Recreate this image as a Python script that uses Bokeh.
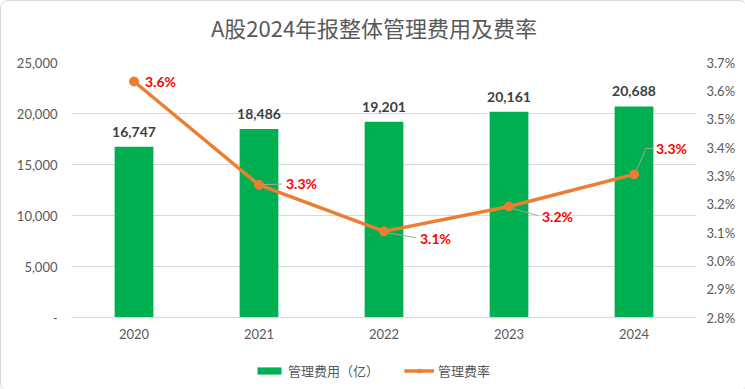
from bokeh.plotting import figure
from bokeh.layouts import column
from bokeh.models import (Range1d, LinearAxis, FixedTicker, NumeralTickFormatter,
                          PrintfTickFormatter, Legend, LegendItem, ColumnDataSource, Label)
from bokeh.embed import file_html
from bokeh.resources import INLINE
from bokeh.core.properties import value

# ---- data ----
title_text = "A股2024年报整体管理费用及费率"
years = ["2020", "2021", "2022", "2023", "2024"]
expense = [16747, 18486, 19201, 20161, 20688]
expense_labels = ["16,747", "18,486", "19,201", "20,161", "20,688"]
rate = [3.633, 3.268, 3.104, 3.192, 3.305]
rate_labels = ["3.6%", "3.3%", "3.1%", "3.2%", "3.3%"]
left_ticks = [0, 5000, 10000, 15000, 20000, 25000]
right_ticks = [2.8, 2.9, 3.0, 3.1, 3.2, 3.3, 3.4, 3.5, 3.6, 3.7]
series_names = ["管理费用（亿）", "管理费率"]

# ---- styles ----
W = 745
FW, FH = 625, 255
BL, BR = 70, 50
TITLE_H, LEG_H = 45, 40
GREEN = "#00B050"
ORANGE = "#ED7D31"
GREY = "#595959"
CJK = "Noto Sans CJK SC"
NUM = "Lato"
lab_dx = [11, 27, 36, 33, 22]
lab_dy = [0, -1, 7, 10, -26]

xs = list(range(len(years)))
X0, X1 = -0.5, len(years) - 0.5
Y0, Y1 = left_ticks[0], left_ticks[-1]
R0, R1 = right_ticks[0], right_ticks[-1]


def strip(h):
    f = figure(frame_width=FW, frame_height=h, output_backend="svg", toolbar_location=None,
               x_range=Range1d(0, 1), y_range=Range1d(0, 1), x_axis_type=None, y_axis_type=None,
               min_border_left=BL, min_border_right=BR, min_border_top=0, min_border_bottom=0,
               background_fill_color="white", border_fill_color="white")
    f.outline_line_color = None
    f.xgrid.visible = False
    f.ygrid.visible = False
    return f


# ---- title strip ----
tf = strip(TITLE_H)
tf.add_layout(Label(x=(W / 2 - BL) / FW, y=1 - 25 / TITLE_H, text=title_text,
                    text_align="center", text_baseline="middle", text_color=GREY,
                    text_font=CJK, text_font_size="22px"))

# ---- main chart ----
p = figure(frame_width=FW, frame_height=FH, output_backend="svg", toolbar_location=None,
           x_range=Range1d(X0, X1), y_range=Range1d(Y0, Y1),
           min_border_left=BL, min_border_right=BR, min_border_top=61 - TITLE_H,
           min_border_bottom=33, background_fill_color="white", border_fill_color="white")
p.outline_line_color = None
p.extra_y_ranges = {"pct": Range1d(R0, R1)}

p.xaxis.ticker = FixedTicker(ticks=xs)
p.xaxis.major_label_overrides = {i: y for i, y in zip(xs, years)}
p.xaxis.axis_line_color = "#d9d9d9"
p.xaxis.major_tick_line_color = None
p.xaxis.minor_tick_line_color = None
p.xaxis.major_label_standoff = 5
p.xaxis.major_label_text_color = GREY
p.xaxis.major_label_text_font = NUM
p.xaxis.major_label_text_font_size = "13px"

p.yaxis.ticker = FixedTicker(ticks=left_ticks)
p.yaxis.formatter = NumeralTickFormatter(format="0,0")
p.yaxis.major_label_overrides = {0: "-"}
p.yaxis.axis_line_color = None
p.yaxis.major_tick_line_color = None
p.yaxis.minor_tick_line_color = None
p.yaxis.major_label_standoff = 8
p.yaxis.major_label_text_color = GREY
p.yaxis.major_label_text_font = NUM
p.yaxis.major_label_text_font_size = "13px"

ax2 = LinearAxis(y_range_name="pct", ticker=FixedTicker(ticks=right_ticks),
                 formatter=PrintfTickFormatter(format="%.1f%%"))
ax2.axis_line_color = None
ax2.major_tick_line_color = None
ax2.minor_tick_line_color = None
ax2.major_label_standoff = 4
ax2.major_label_text_color = GREY
ax2.major_label_text_font = NUM
ax2.major_label_text_font_size = "13px"
p.add_layout(ax2, "right")

p.xgrid.grid_line_color = None
p.ygrid.ticker = FixedTicker(ticks=left_ticks)
p.ygrid.grid_line_color = "#d9d9d9"
p.ygrid.grid_line_width = 1

src = ColumnDataSource(dict(x=xs, expense=expense, elab=expense_labels,
                            rate=rate, rlab=rate_labels, dx=lab_dx, dy=lab_dy))

p.vbar(x="x", top="expense", width=0.31, source=src, fill_color=GREEN, line_color=None)
p.text(x="x", y="expense", text="elab", source=src, y_offset=-10,
       text_align="center", text_baseline="bottom", text_color="#404040",
       text_font=value(NUM), text_font_style="bold", text_font_size="14px")

ppx = FW / (X1 - X0)
ppy = FH / (R1 - R0)
lead_xs, lead_ys = [], []
for i in range(1, len(xs)):
    if i == len(xs) - 1:
        lead_xs.append([xs[i] + 2 / ppx, xs[i] + 12 / ppx, xs[i] + (lab_dx[i] - 3) / ppx])
        lead_ys.append([rate[i] + 3 / ppy, rate[i] - lab_dy[i] / ppy, rate[i] - lab_dy[i] / ppy])
    else:
        lead_xs.append([xs[i] + 3 / ppx, xs[i] + (lab_dx[i] - 4) / ppx])
        lead_ys.append([rate[i] - (lab_dy[i] * 0.2) / ppy, rate[i] - (lab_dy[i] * 0.9) / ppy])
p.multi_line(xs=lead_xs, ys=lead_ys, line_color="#a6a6a6", line_width=1, y_range_name="pct")

p.line(x="x", y="rate", source=src, line_color=ORANGE, line_width=3.5, y_range_name="pct")
p.scatter(x="x", y="rate", source=src, size=9, fill_color=ORANGE, line_color=ORANGE,
          y_range_name="pct")
p.text(x="x", y="rate", text="rlab", source=src, x_offset="dx", y_offset="dy",
       text_align="left", text_baseline="middle", text_color="#FF0000",
       text_font=value(NUM), text_font_style="bold", text_font_size="14px", y_range_name="pct")

# ---- legend strip: same series, drawn far below its visible range; only the legend shows ----
lg = strip(LEG_H)
lg.y_range = Range1d(1e6, 1e6 + 1)
k_bar = lg.vbar(x="x", top="expense", width=0.31, source=src, fill_color=GREEN, line_color=None)
k_line = lg.line(x="x", y="rate", source=src, line_color=ORANGE, line_width=3.5)
k_dot = lg.scatter(x="x", y="rate", source=src, size=9, fill_color=ORANGE, line_color=ORANGE)
legend = Legend(items=[LegendItem(label=series_names[0], renderers=[k_bar]),
                       LegendItem(label=series_names[1], renderers=[k_line, k_dot])],
                orientation="horizontal", location=(183, 10),
                label_text_font=CJK, label_text_font_size="13px", label_text_color=GREY,
                glyph_width=30, glyph_height=9, spacing=25, label_standoff=4,
                border_line_color=None, background_fill_alpha=0, margin=0, padding=4)
lg.add_layout(legend)

layout = column(tf, p, lg, spacing=0)
layout.styles = {"border": "1px solid #d9d9d9", "border-radius": "8px",
                 "box-sizing": "border-box", "overflow": "hidden"}

open("out.html", "w").write(file_html(layout, INLINE))
